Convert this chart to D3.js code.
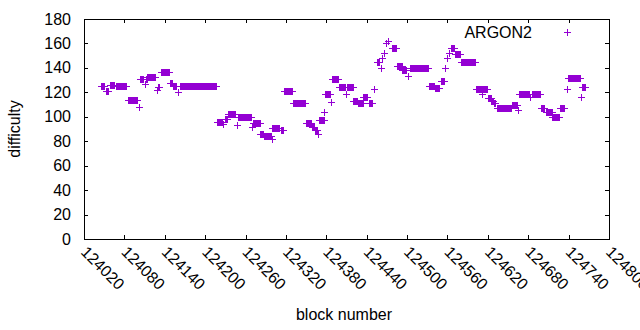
<!DOCTYPE html>
<html>
<head>
<meta charset="utf-8">
<script src="https://cdn.jsdelivr.net/npm/d3@7"></script>
<style>
  html, body { margin: 0; padding: 0; background: #fff; }
  svg { display: block; font-family: "Liberation Sans", Arial, sans-serif; }
</style>
</head>
<body>
<svg id="chart" width="640" height="330"></svg>
<script>
// runs of consecutive blocks that share one difficulty value
const runStart = [
  124045, 124052, 124058, 124067, 124085, 124101, 124103, 124110, 124112, 124114,
  124128, 124130, 124134, 124148, 124152, 124160, 124162, 124218, 124227, 124229,
  124234, 124247, 124249, 124270, 124271, 124282, 124287, 124299, 124300, 124312,
  124317, 124331, 124350, 124358, 124363, 124368, 124369, 124377, 124378, 124387,
  124389, 124399, 124409, 124410, 124420, 124427, 124435, 124443, 124451, 124456,
  124461, 124463, 124465, 124468, 124471, 124478, 124485, 124493, 124502, 124505,
  124533, 124541, 124550, 124557, 124559, 124562, 124565, 124571, 124580, 124602,
  124612, 124613, 124620, 124625, 124629, 124634, 124656, 124665, 124667, 124682,
  124685, 124699, 124706, 124716, 124727, 124737, 124739, 124759, 124760
];
const runEnd = [
  124050, 124055, 124065, 124082, 124099, 124101, 124108, 124110, 124113, 124126,
  124128, 124131, 124147, 124151, 124157, 124160, 124216, 124225, 124227, 124233,
  124245, 124247, 124268, 124270, 124281, 124286, 124298, 124299, 124310, 124316,
  124329, 124348, 124357, 124362, 124366, 124368, 124376, 124377, 124386, 124387,
  124398, 124408, 124409, 124419, 124426, 124434, 124441, 124448, 124451, 124458,
  124461, 124463, 124466, 124469, 124472, 124483, 124492, 124499, 124502, 124531,
  124540, 124548, 124555, 124557, 124559, 124563, 124570, 124579, 124601, 124611,
  124612, 124619, 124624, 124628, 124630, 124655, 124664, 124665, 124681, 124682,
  124698, 124704, 124715, 124726, 124733, 124737, 124757, 124759, 124764
];
const runDifficulty = [
  125, 121, 126, 125, 113.5, 108, 131, 127, 131, 132.5,
  122, 124, 137, 128, 125, 120, 125, 96, 94, 98,
  102, 93, 100, 92, 95, 86, 84, 82, 91, 89,
  121, 111, 95, 92, 89, 86, 97, 104, 119, 112,
  131, 124, 119, 124, 113, 111, 116, 111, 122.5, 145,
  140, 148, 152, 160, 162, 156, 141.5, 138.5, 133, 140,
  125, 123.5, 129.5, 140, 148, 152, 156, 151, 144.5, 123,
  119, 123, 115, 113, 111, 107, 110, 105.5, 119, 116,
  119, 107.5, 104, 100, 107, 122.5, 132, 116, 124
];

const xTicks = [124020, 124080, 124140, 124200, 124260, 124320, 124380,
  124440, 124500, 124560, 124620, 124680, 124740, 124800];
const yTicks = [0, 20, 40, 60, 80, 100, 120, 140, 160, 180];
const seriesName = 'ARGON2';

const purple = '#9400d3';
const svg = d3.select('#chart');

const plotLeft = 84, plotRight = 609, plotTop = 19, plotBottom = 239;
const tickLen = 4;

const x = d3.scaleLinear().domain([124020, 124800]).range([plotLeft, plotRight]);
const y = d3.scaleLinear().domain([0, 180]).range([plotBottom, plotTop]);

// one point per block inside each run
const points = runStart.flatMap((s, i) =>
  d3.range(s, runEnd[i] + 1).map(b => ({ block: b, value: runDifficulty[i] }))
);

const plus = 'M-3.5,0H3.5M0,-3.5V3.5';

svg.append('g')
  .attr('fill', 'none')
  .attr('stroke', purple)
  .attr('stroke-width', 1)
  .attr('shape-rendering', 'crispEdges')
  .selectAll()
  .data(points)
  .join('path')
    .attr('transform', d => `translate(${Math.round(x(d.block)) + 0.5},${Math.round(y(d.value)) + 0.5})`)
    .attr('d', plus);

// frame with inward ticks on all four sides
const frame = svg.append('g')
  .attr('stroke', '#000')
  .attr('stroke-width', 1)
  .attr('shape-rendering', 'crispEdges');

frame.append('rect')
  .attr('x', plotLeft + 0.5).attr('y', plotTop + 0.5)
  .attr('width', plotRight - plotLeft).attr('height', plotBottom - plotTop)
  .attr('fill', 'none');

frame.selectAll('.xt')
  .data(xTicks)
  .join('path')
    .attr('d', d => {
      const px = Math.round(x(d)) + 0.5;
      return `M${px},${plotBottom}v${-tickLen}M${px},${plotTop}v${tickLen}`;
    });

frame.selectAll('.yt')
  .data(yTicks)
  .join('path')
    .attr('d', d => {
      const py = Math.round(y(d)) + 0.5;
      return `M${plotLeft},${py}h${tickLen}M${plotRight},${py}h${-tickLen}`;
    });

// tick labels
svg.append('g')
  .attr('font-size', 16)
  .attr('fill', '#000')
  .selectAll()
  .data(yTicks)
  .join('text')
    .attr('x', plotLeft - 13)
    .attr('y', d => y(d))
    .attr('dy', '0.35em')
    .attr('text-anchor', 'end')
    .text(d => d);

svg.append('g')
  .attr('font-size', 16)
  .attr('fill', '#000')
  .selectAll()
  .data(xTicks)
  .join('text')
    .attr('transform', d => `translate(${x(d)},${plotBottom + 10}) rotate(45)`)
    .attr('dy', '0.35em')
    .attr('text-anchor', 'start')
    .text(d => d);

// axis titles
svg.append('text')
  .attr('transform', `translate(20,${(plotTop + plotBottom) / 2}) rotate(-90)`)
  .attr('text-anchor', 'middle')
  .attr('font-size', 16)
  .text('difficulty');

svg.append('text')
  .attr('x', 344)
  .attr('y', 320)
  .attr('text-anchor', 'middle')
  .attr('font-size', 16)
  .text('block number');

// key
svg.append('text')
  .attr('x', 532)
  .attr('y', 37.5)
  .attr('text-anchor', 'end')
  .attr('font-size', 16)
  .text(seriesName);

svg.append('path')
  .attr('transform', 'translate(567.5,32.5)')
  .attr('d', plus)
  .attr('stroke', purple)
  .attr('shape-rendering', 'crispEdges');
</script>
</body>
</html>
